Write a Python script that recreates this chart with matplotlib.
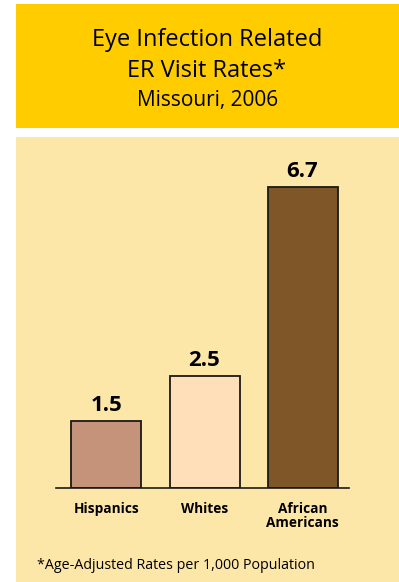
import matplotlib.pyplot as plt
from matplotlib.patches import Rectangle

groups = ['Hispanics', 'Whites', 'African\nAmericans']
rates = [1.5, 2.5, 6.7]
bar_colors = ['#c4937a', '#fedfba', '#7f5627']

W, H = 399, 582
fig = plt.figure(figsize=(W / 100, H / 100), dpi=100)
fig.patch.set_facecolor('white')
plt.rcParams['font.family'] = ['Open Sans', 'DejaVu Sans']


def box(x, y, w, h, color):
    # pixel box measured from the top-left corner, kept behind the axes
    fig.patches.append(Rectangle((x / W, 1 - (y + h) / H), w / W, h / H,
                                 transform=fig.transFigure, facecolor=color,
                                 edgecolor='none', zorder=-5))


box(16, 4, 383, 124, '#ffcc00')
box(16, 137, 383, 445, '#fde7a8')

fig.text(207 / W, 1 - 46 / H, 'Eye Infection Related', ha='center', va='baseline', fontsize=17)
fig.text(207 / W, 1 - 77 / H, 'ER Visit Rates*', ha='center', va='baseline', fontsize=17)
fig.text(208 / W, 1 - 106 / H, 'Missouri, 2006', ha='center', va='baseline', fontsize=15)

# chart area: baseline at y=488 px, 45 px per unit
x0, x1, base, top = 56, 349, 488, 140
ax = fig.add_axes([x0 / W, 1 - base / H, (x1 - x0) / W, (base - top) / H])
ax.set_facecolor('none')
ax.set_xlim(-0.515, 2.474)
ax.set_ylim(0, (base - top) / 45)

bars = ax.bar(range(len(rates)), rates, width=0.714, color=bar_colors,
              edgecolor='#1a1a1a', linewidth=1.3, zorder=2)
for b, v in zip(bars, rates):
    ax.text(b.get_x() + b.get_width() / 2, v + 0.21, f'{v:.1f}', ha='center',
            va='baseline', fontsize=16, fontweight='bold')

for s in ['top', 'right', 'left']:
    ax.spines[s].set_visible(False)
ax.spines['bottom'].set_linewidth(1.2)
ax.spines['bottom'].set_color('#1a1a1a')
ax.set_yticks([])
ax.set_xticks(range(len(groups)))
ax.set_xticklabels(groups, fontsize=9.8, fontweight='bold', linespacing=1.05, va='top')
ax.tick_params(axis='x', length=0, pad=10)

fig.text(37 / W, 1 - 569 / H, '*Age-Adjusted Rates per 1,000 Population',
         ha='left', va='baseline', fontsize=10.3)

fig.savefig('out.png', dpi=100, facecolor=fig.get_facecolor())
